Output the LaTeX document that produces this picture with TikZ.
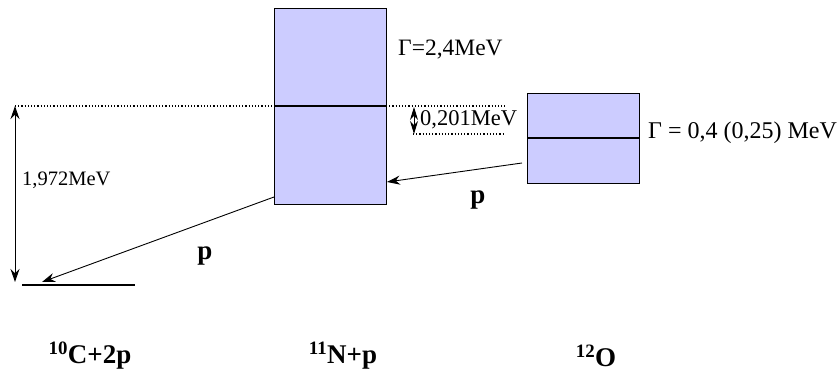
\documentclass[tikz,border=0pt]{standalone}
\usepackage{fontspec}
\setmainfont{Liberation Serif}
\usetikzlibrary{arrows.meta}
\definecolor{boxfill}{HTML}{CCCCFF}
\begin{document}
\begin{tikzpicture}[x=1pt,y=-1pt,
  box/.style={draw=black, line width=0.8pt, fill=boxfill, inner sep=0pt, outer sep=0pt, anchor=north west},
  lbl/.style={inner sep=0pt, anchor=west},
  blbl/.style={font=\fontsize{27}{30}\selectfont\bfseries, inner sep=0pt},
  arr/.style={-{Stealth[length=13pt,width=9pt]}, line width=0.9pt},
  dbl/.style={{Stealth[length=13pt,width=9pt]}-{Stealth[length=13pt,width=9pt]}, line width=1pt},
  dots/.style={dash pattern=on 1.2pt off 2pt, line width=1.2pt},
  lvl/.style={line width=1.3pt}]
\useasboundingbox (0,0) rectangle (839,374);
% boxes
\node[box, minimum width=112pt, minimum height=196pt] (N) at (274,8) {};
\node[box, minimum width=112pt, minimum height=90pt] (O) at (527,93) {};
% levels inside boxes
\coordinate (nl) at (274,106);
\coordinate (ol) at (527,138);
\draw[lvl] (nl) -- (N.east |- nl);
\draw[lvl] (ol) -- (O.east |- ol);
% dotted reference lines
\coordinate (dl) at (15,106);
\coordinate (dr) at (505,106);
\coordinate (dl2) at (413,134);
\coordinate (dr2) at (505,134);
\draw[dots] (dl) -- (nl);
\draw[dots] (N.east |- dl) -- (dr);
\draw[dots] (dl2) -- (dr2);
% ground level
\coordinate (g1) at (22,285);
\coordinate (g2) at (135,285);
\draw[line width=1.6pt] (g1) -- (g2);
% energy arrows
\coordinate (ea) at (15,106);
\coordinate (eb) at (15,282);
\draw[dbl] (ea) -- (eb);
\coordinate (sa) at (414,107);
\coordinate (sb) at (414,134);
\draw[{Stealth[length=13pt,width=8pt]}-{Stealth[length=13pt,width=8pt]}, line width=0.9pt] (sa) -- (sb);
% decay arrows
\coordinate (p1s) at (274,197);
\coordinate (p1e) at (42,282);
\draw[arr] (p1s) -- (p1e);
\coordinate (p2s) at (522,163);
\coordinate (p2e) at (387,182);
\draw[arr] (p2s) -- (p2e);
% labels
\node[lbl, font=\fontsize{23.5}{26}\selectfont] (gN) at (398,50) {Γ=2,4MeV};
\node[lbl, font=\fontsize{24}{26}\selectfont] (gO) at (648,133) {Γ = 0,4 (0,25) MeV};
\node[lbl, font=\fontsize{20.5}{24}\selectfont] (e1) at (22,180) {1,972MeV};
\node[lbl, font=\fontsize{22.5}{26}\selectfont] (e2) at (420,120) {0,201MeV};
\node[blbl] (pa) at (205,256) {p};
\node[blbl] (pb) at (478,200) {p};
\node[blbl] (c10) at (90,356) {\textsuperscript{10}C+2p};
\node[blbl] (n11) at (343,356) {\textsuperscript{11}N+p};
\node[blbl] (o12) at (596,356) {\textsuperscript{12}O};
\end{tikzpicture}
\end{document}
